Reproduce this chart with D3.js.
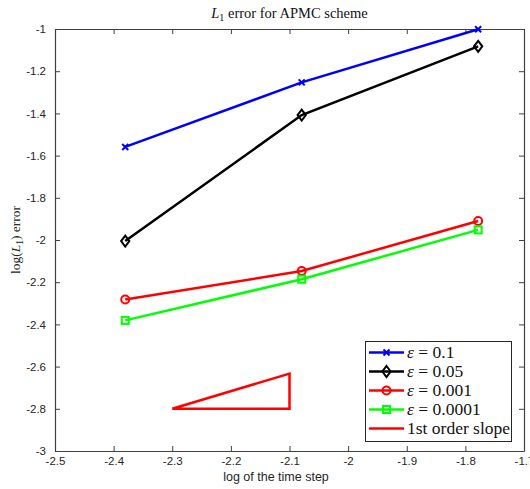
<!DOCTYPE html>
<html>
<head>
<meta charset="utf-8">
<script src="https://cdn.jsdelivr.net/npm/d3@7/dist/d3.min.js"></script>
<style>
  html, body { margin: 0; padding: 0; background: #fff; }
  svg { display: block; }
</style>
</head>
<body>
<svg id="chart" width="530" height="489"></svg>
<script>
// log10 of the time step (dt = 1/240, 1/120, 1/60)
const logDt = [-2.3802, -2.0792, -1.7782];

// log10 of the L1 error for each epsilon
const eps01    = [-1.559, -1.253, -1.001];
const eps005   = [-2.005, -1.408, -1.082];
const eps0001  = [-2.282, -2.147, -1.910];
const eps00001 = [-2.381, -2.186, -1.952];

// reference first-order slope triangle
const slopeX = [-2.3, -2.1, -2.1, -2.3];
const slopeY = [-2.8, -2.8, -2.633, -2.8];

const xTicks = [-2.5, -2.4, -2.3, -2.2, -2.1, -2, -1.9, -1.8, -1.7];
const yTicks = [-3, -2.8, -2.6, -2.4, -2.2, -2, -1.8, -1.6, -1.4, -1.2, -1];

const series = [
  { label: "0.1",    values: eps01,    color: "#0000ff", marker: "x" },
  { label: "0.05",   values: eps005,   color: "#000000", marker: "diamond" },
  { label: "0.001",  values: eps0001,  color: "#ff0000", marker: "circle" },
  { label: "0.0001", values: eps00001, color: "#00ff00", marker: "square" }
];

const svg = d3.select("#chart");
const plotLeft = 55, plotRight = 524, plotTop = 29, plotBottom = 451;

const x = d3.scaleLinear().domain([-2.5, -1.7]).range([plotLeft, plotRight]);
const y = d3.scaleLinear().domain([-3, -1]).range([plotBottom, plotTop]);

const axisColor = "#404040";
const tickFont = "'Liberation Sans', Arial, sans-serif";
const serif = "'Liberation Serif', 'Times New Roman', serif";
// plain hyphen-minus tick labels
const fmt = d => String(+d.toFixed(2));

// axes with inward ticks on all four sides
function styleAxis(g) {
  g.selectAll("path.domain").attr("stroke", axisColor).attr("stroke-width", 1.2);
  g.selectAll(".tick line").attr("stroke", axisColor).attr("stroke-width", 1);
}
const gxB = svg.append("g").attr("transform", `translate(0,${plotBottom})`)
  .call(d3.axisBottom(x).tickValues(xTicks).tickSizeInner(-5).tickSizeOuter(0).tickPadding(6).tickFormat(fmt));
const gxT = svg.append("g").attr("transform", `translate(0,${plotTop})`)
  .call(d3.axisTop(x).tickValues(xTicks).tickSizeInner(-5).tickSizeOuter(0).tickFormat(""));
const gyL = svg.append("g").attr("transform", `translate(${plotLeft},0)`)
  .call(d3.axisLeft(y).tickValues(yTicks).tickSizeInner(-5).tickSizeOuter(0).tickPadding(9).tickFormat(fmt));
const gyR = svg.append("g").attr("transform", `translate(${plotRight},0)`)
  .call(d3.axisRight(y).tickValues(yTicks).tickSizeInner(-5).tickSizeOuter(0).tickFormat(""));
[gxB, gxT, gyL, gyR].forEach(styleAxis);
[gxB, gyL].forEach(g => g.selectAll(".tick text")
  .attr("font-family", tickFont).attr("font-size", 11.5).attr("fill", "#262626"));

// titles
svg.append("text").attr("x", (plotLeft + plotRight) / 2).attr("y", 18)
  .attr("text-anchor", "middle").attr("font-family", serif).attr("font-size", 14.5).attr("fill", "#111")
  .html('<tspan font-style="italic">L</tspan><tspan font-size="10" dy="3">1</tspan><tspan dy="-3"> error for APMC scheme</tspan>');

svg.append("text").attr("x", 276).attr("y", 481)
  .attr("text-anchor", "middle").attr("font-family", tickFont).attr("font-size", 12.5).attr("fill", "#262626")
  .text("log of the time step");

svg.append("text").attr("transform", `translate(20,${(plotTop + plotBottom) / 2}) rotate(-90)`)
  .attr("text-anchor", "middle").attr("font-family", serif).attr("font-size", 13.5).attr("fill", "#262626")
  .html('log(<tspan font-style="italic">L</tspan><tspan font-size="9.5" dy="3">1</tspan><tspan dy="-3">) error</tspan>');

// markers
function drawMarker(g, type, cx, cy, color) {
  if (type === "x") {
    const s = 3;
    g.append("path").attr("d", `M${cx - s},${cy - s}L${cx + s},${cy + s}M${cx - s},${cy + s}L${cx + s},${cy - s}`)
      .attr("stroke", color).attr("stroke-width", 2).attr("fill", "none");
  } else if (type === "diamond") {
    const s = 5.5;
    g.append("path").attr("d", `M${cx},${cy - s}L${cx + s * 0.75},${cy}L${cx},${cy + s}L${cx - s * 0.75},${cy}Z`)
      .attr("stroke", color).attr("stroke-width", 2).attr("fill", "none");
  } else if (type === "circle") {
    g.append("circle").attr("cx", cx).attr("cy", cy).attr("r", 4)
      .attr("stroke", color).attr("stroke-width", 2).attr("fill", "none");
  } else if (type === "square") {
    const s = 3.5;
    g.append("rect").attr("x", cx - s).attr("y", cy - s).attr("width", 2 * s).attr("height", 2 * s)
      .attr("stroke", color).attr("stroke-width", 2).attr("fill", "none");
  }
}

const line = d3.line().x(d => x(d[0])).y(d => y(d[1]));
const plot = svg.append("g");
series.forEach(s => {
  const pts = logDt.map((v, i) => [v, s.values[i]]);
  plot.append("path").datum(pts).attr("d", line)
    .attr("fill", "none").attr("stroke", s.color).attr("stroke-width", 2.5);
  pts.forEach(p => drawMarker(plot, s.marker, x(p[0]), y(p[1]), s.color));
});

// slope triangle
plot.append("path").datum(slopeX.map((v, i) => [v, slopeY[i]])).attr("d", line)
  .attr("fill", "none").attr("stroke", "#ff0000").attr("stroke-width", 2.5).attr("stroke-linejoin", "miter");

// legend
const lg = svg.append("g");
lg.append("rect").attr("x", 365.5).attr("y", 341.5).attr("width", 146).attr("height", 100)
  .attr("fill", "#fff").attr("stroke", "#262626").attr("stroke-width", 1);
const entries = series.map(s => ({ color: s.color, marker: s.marker, text: s.label, eps: true }))
  .concat([{ color: "#ff0000", marker: null, text: "1st order slope", eps: false }]);
entries.forEach((e, i) => {
  const yy = 352.5 + i * 19;
  lg.append("line").attr("x1", 369).attr("x2", 404).attr("y1", yy).attr("y2", yy)
    .attr("stroke", e.color).attr("stroke-width", 2.5);
  if (e.marker) drawMarker(lg, e.marker, 386.5, yy, e.color);
  const t = lg.append("text").attr("x", 407).attr("y", yy + 5.5)
    .attr("font-family", serif).attr("font-size", 17.5).attr("fill", "#111");
  if (e.eps) {
    t.append("tspan").attr("font-style", "italic").text("ε");
    t.append("tspan").text(" = " + e.text);
  } else {
    t.text(e.text);
  }
});
</script>
</body>
</html>
